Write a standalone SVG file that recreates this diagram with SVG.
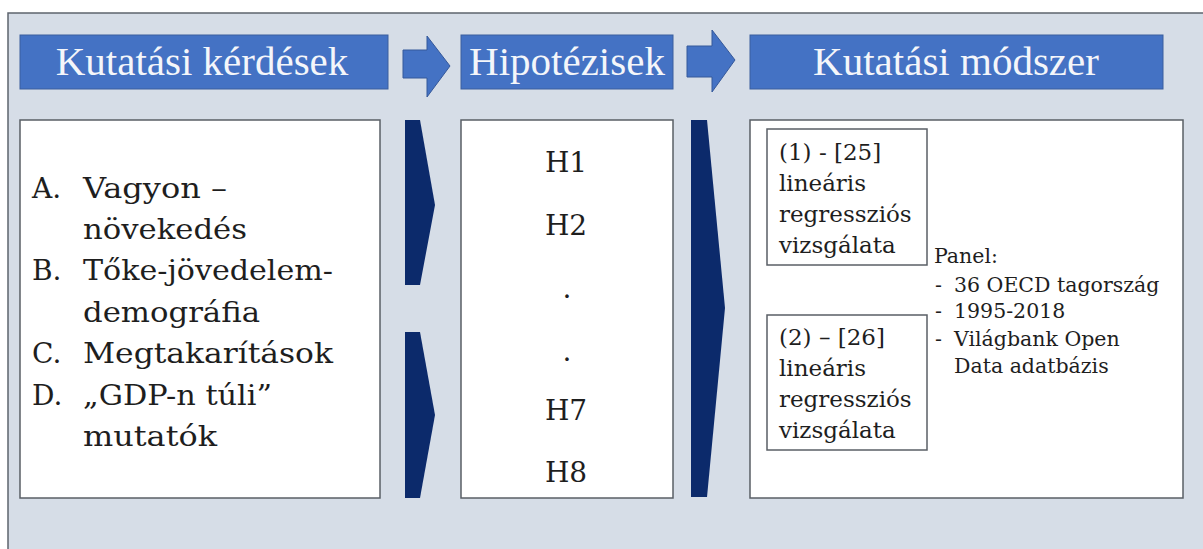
<svg xmlns="http://www.w3.org/2000/svg" width="1203" height="549" viewBox="0 0 1203 549">
<style>
.hdr{fill:#4472c4;stroke:#3a5f9e;stroke-width:1}
.hdrt{font-family:"Liberation Serif","Times New Roman",serif;font-size:41px;fill:#f4f6fa;text-anchor:middle}
.box{fill:#ffffff;stroke:#5a5f66;stroke-width:1.5}
.t{font-family:"DejaVu Serif","Liberation Serif",serif;fill:#1e1e1e}
.big{font-size:28px}
.mid{font-size:23px}
.sm{font-size:20.5px}
.arr{fill:#4472c4;stroke:#35589a;stroke-width:1}
.chev{fill:#0c2a6b}
</style>
<rect x="0" y="0" width="1203" height="549" fill="#ffffff"/>
<rect x="8" y="13" width="1200" height="540" fill="#d6dde7" stroke="#5d646e" stroke-width="1.5"/>

<g id="header1">
<rect class="hdr" x="20" y="35" width="368" height="54"/>
<text class="hdrt" x="202" y="75">Kutatási kérdések</text>
</g>
<g id="header2">
<rect class="hdr" x="461" y="35" width="212" height="54"/>
<text class="hdrt" x="567" y="75">Hipotézisek</text>
</g>
<g id="header3">
<rect class="hdr" x="750" y="35" width="413" height="54"/>
<text class="hdrt" x="956" y="75">Kutatási módszer</text>
</g>

<g id="box1">
<rect class="box" x="20" y="120" width="360" height="378"/>
<text class="t big" x="32" y="198">A.</text><text class="t big" x="83" y="198" textLength="144" lengthAdjust="spacingAndGlyphs">Vagyon –</text>
<text class="t big" x="83" y="239" textLength="164" lengthAdjust="spacingAndGlyphs">növekedés</text>
<text class="t big" x="32" y="280">B.</text><text class="t big" x="83" y="280" textLength="250" lengthAdjust="spacingAndGlyphs">Tőke-jövedelem-</text>
<text class="t big" x="83" y="322" textLength="177" lengthAdjust="spacingAndGlyphs">demográfia</text>
<text class="t big" x="32" y="363">C.</text><text class="t big" x="83" y="363" textLength="250" lengthAdjust="spacingAndGlyphs">Megtakarítások</text>
<text class="t big" x="32" y="405">D.</text><text class="t big" x="83" y="405" textLength="189" lengthAdjust="spacingAndGlyphs">„GDP-n túli”</text>
<text class="t big" x="83" y="446" textLength="134" lengthAdjust="spacingAndGlyphs">mutatók</text>
</g>

<g id="box2">
<rect class="box" x="461" y="120" width="212" height="378"/>
<g class="t big" text-anchor="middle">
<text x="566" y="172">H1</text>
<text x="566" y="235">H2</text>
<text x="567" y="298">.</text>
<text x="567" y="361">.</text>
<text x="566" y="420">H7</text>
<text x="566" y="482">H8</text>
</g>
</g>

<g id="box3">
<rect class="box" x="750" y="120" width="433" height="378"/>
</g>
<g id="method1">
<rect class="box" x="767" y="129" width="160" height="136"/>
<g class="t mid">
<text x="779" y="160">(1) - [25]</text>
<text x="779" y="191">lineáris</text>
<text x="779" y="222">regressziós</text>
<text x="779" y="253">vizsgálata</text>
</g>
</g>
<g id="method2">
<rect class="box" x="767" y="315" width="160" height="135"/>
<g class="t mid">
<text x="779" y="345">(2) – [26]</text>
<text x="779" y="376">lineáris</text>
<text x="779" y="407">regressziós</text>
<text x="779" y="438">vizsgálata</text>
</g>
</g>
<g id="panel" class="t sm">
<text x="934" y="263">Panel:</text>
<text x="935" y="292">-</text><text x="954" y="292">36 OECD tagország</text>
<text x="935" y="318">-</text><text x="954" y="318">1995-2018</text>
<text x="935" y="346">-</text><text x="954" y="346">Világbank Open</text>
<text x="954" y="373">Data adatbázis</text>
</g>

<g id="connectors">
<polygon class="arr" points="403,50 427,50 427,36 450,66 427,97 427,78 403,78"/>
<polygon class="arr" points="687,46 712,46 712,30 735,60 712,92 712,77 687,77"/>
<polygon class="chev" points="405,120 420,120 435,205 420,285 405,285"/>
<polygon class="chev" points="405,332 420,332 435,415 420,498 405,498"/>
<polygon class="chev" points="691,120 707,120 725,308 707,497 691,497"/>
</g>
</svg>
